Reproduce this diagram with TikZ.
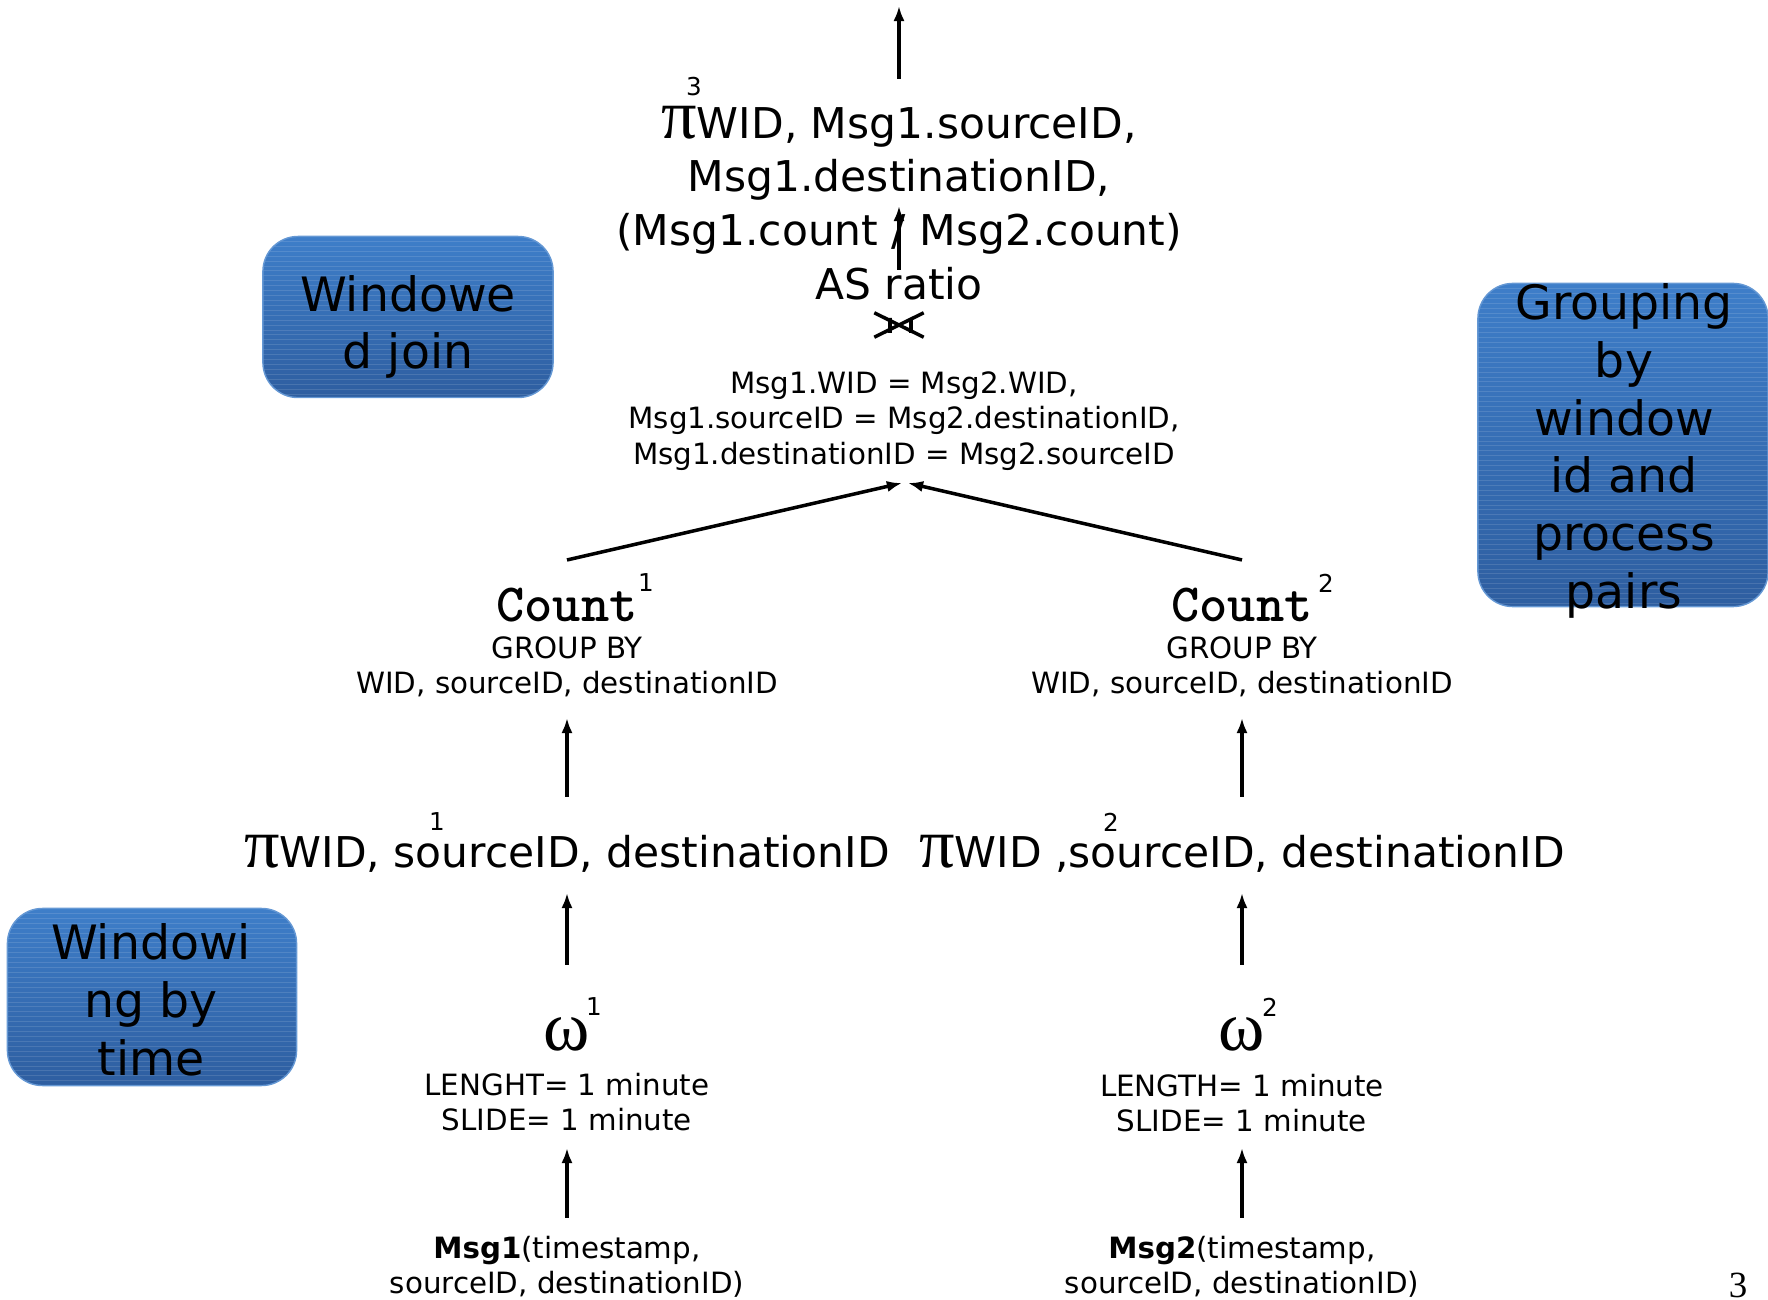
\documentclass[tikz,border=0pt]{standalone}
\usepackage{fontspec}
\setmainfont{DejaVu Sans}
\newfontfamily\grk{Liberation Serif}
\usetikzlibrary{arrows.meta}

\definecolor{notetop}{RGB}{62,126,201}
\definecolor{notebot}{RGB}{46,94,160}
\newcommand\gpi{{\grk\fontsize{20}{15}\selectfont π}}

\tikzset{
  flow/.style={-{Latex[length=4.3pt,width=3.2pt]}, line width=1pt},
  big/.style={font=\fontsize{12.06}{15.3}\selectfont, align=center, inner sep=0pt},
  small/.style={font=\fontsize{8.34}{10.1}\selectfont, align=center, inner sep=0pt},
  sup/.style={font=\fontsize{7}{8}\selectfont, inner sep=0pt},
  sym/.style={font=\grk\fontsize{20}{20}\selectfont, inner sep=0pt},
  cnt/.style={font=\ttfamily\bfseries\fontsize{15.3}{16}\selectfont, inner sep=0pt},
  note/.style={rounded corners=0.35cm, draw=notetop!80!white, line width=0.4pt,
    top color=notetop, bottom color=notebot,
    path picture={\foreach \k in {1,...,70}{\draw[white, opacity=0.12, line width=0.25pt]
      ([yshift=-\k*1.4pt]path picture bounding box.north west) -- ([yshift=-\k*1.4pt]path picture bounding box.north east);}}},
  notetext/.style={font=\fontsize{13.46}{16.4}\selectfont, align=center, inner sep=0pt}
}

\begin{document}
\begin{tikzpicture}[x=0.01cm, y=-0.01cm]
\useasboundingbox (0,0) rectangle (1768,1300);

\node[note, minimum width=2.9cm, minimum height=1.61cm] (joinbox) at (408,317) {};
\node[notetext] (jointxt) at (408,327) {Windowe\\d join};
\node[note, minimum width=2.9cm, minimum height=3.23cm] (grpbox) at (1623,445) {};
\node[notetext] (grptxt) at (1624,451) {Grouping\\by\\window\\id and\\process\\pairs};
\node[note, minimum width=2.89cm, minimum height=1.77cm] (winbox) at (152,997) {};
\node[notetext] (wintxt) at (151,1000) {Windowi\\ng by\\time};

\node[big] (proj3) at (899,203) {\gpi WID, Msg1.sourceID,\\Msg1.destinationID,\\(Msg1.count / Msg2.count)\\AS ratio};
\node[sup] (s3) at (694,87) {3};
\coordinate (out) at (899,6);
\node[inner sep=0pt, minimum width=0.48cm, minimum height=0.23cm] (join) at (899,325) {};
\draw[line width=1pt] (join.south west) -- (join.north east) (join.north west) -- (join.south east)
  ([shift={(-9,-7)}]join.center) -- ([shift={(-9,8)}]join.center)
  ([shift={(12,-7)}]join.center) -- ([shift={(12,8)}]join.center);
\node[small] (cond) at (904,421) {Msg1.WID = Msg2.WID,\\Msg1.sourceID = Msg2.destinationID,\\Msg1.destinationID = Msg2.sourceID};

\node[cnt] (cnt1) at (567,605) {Count};
\node[sup] (c1s) at (646,583) {1};
\node[small] (grp1) at (567,667) {GROUP BY\\WID, sourceID, destinationID};
\node[big] (proj1) at (567,854) {\gpi WID, sourceID, destinationID};
\node[sup] (p1s) at (437,822) {1};
\node[sym] (w1) at (567,1034) {ω};
\node[sup] (w1s) at (594,1007) {1};
\node[small] (par1) at (567,1102) {LENGHT= 1 minute\\SLIDE= 1 minute};
\node[small] (msg1) at (567,1267) {\textbf{Msg1}(timestamp,\\sourceID, destinationID)};

\node[cnt] (cnt2) at (1242,605) {Count};
\node[sup] (c2s) at (1326,583) {2};
\node[small] (grp2) at (1242,667) {GROUP BY\\WID, sourceID, destinationID};
\node[big] (proj2) at (1242,854) {\gpi WID ,sourceID, destinationID};
\node[sup] (p2s) at (1111,822) {2};
\node[sym] (w2) at (1242,1034) {ω};
\node[sup] (w2s) at (1270,1007) {2};
\node[small] (par2) at (1242,1103) {LENGTH= 1 minute\\SLIDE= 1 minute};
\node[small] (msg2) at (1242,1267) {\textbf{Msg2}(timestamp,\\sourceID, destinationID)};

\node[font=\grk\fontsize{10.5}{12}\selectfont, inner sep=0pt] (pagenum) at (1738,1285) {3};

\draw[flow, shorten <=0.49cm, shorten >=0.46cm] (msg1.center) -- (par1.center);
\draw[flow, shorten <=0.69cm, shorten >=0.39cm] (w1.center) -- (proj1.center);
\draw[flow, shorten <=0.57cm, shorten >=0.51cm] (proj1.center) -- (grp1.center);
\draw[flow, shorten <=0.49cm, shorten >=0.45cm] (msg2.center) -- (par2.center);
\draw[flow, shorten <=0.69cm, shorten >=0.39cm] (w2.center) -- (proj2.center);
\draw[flow, shorten <=0.57cm, shorten >=0.51cm] (proj2.center) -- (grp2.center);
\draw[flow] ([yshift=0.45cm]cnt1.center) -- ([xshift=-0.02cm,yshift=-0.62cm]cond.center);
\draw[flow] ([yshift=0.45cm]cnt2.center) -- ([xshift=0.04cm,yshift=-0.62cm]cond.center);
\draw[flow, shorten <=0.55cm, shorten >=0.03cm] (join.center) -- (proj3.center);
\draw[flow, shorten <=1.24cm] (proj3.center) -- (out);
\end{tikzpicture}
\end{document}
